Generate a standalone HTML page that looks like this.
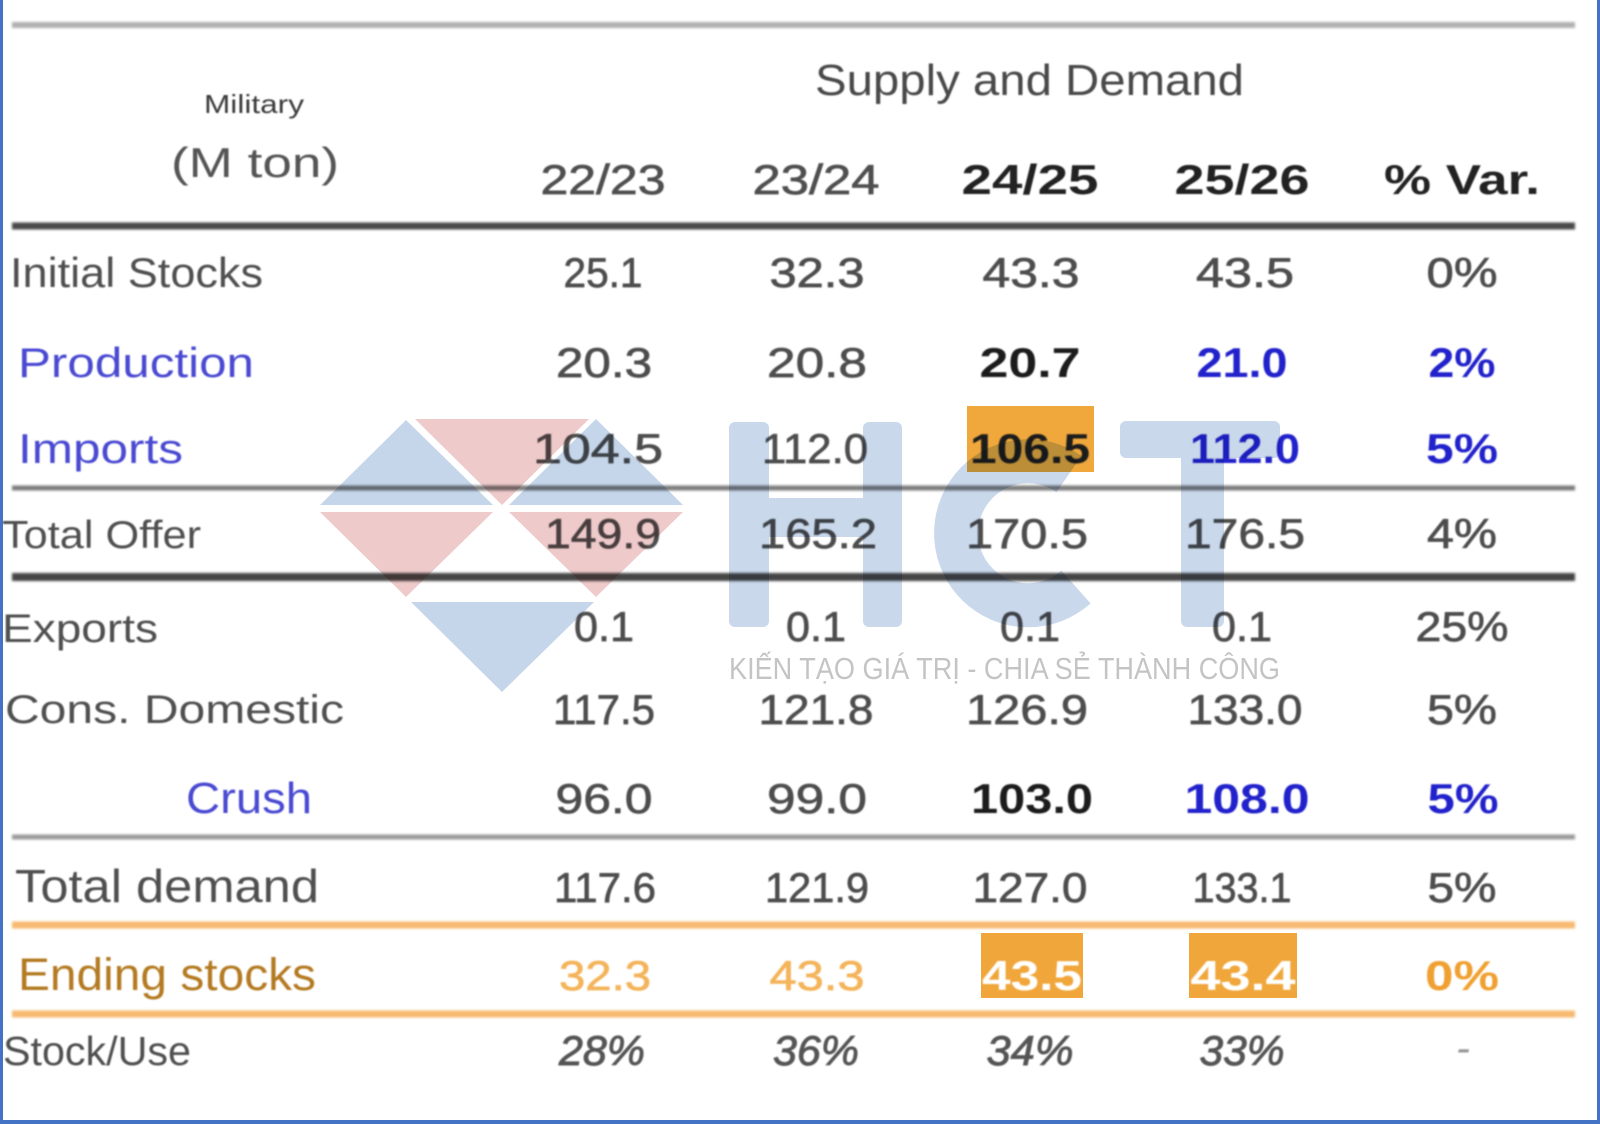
<!DOCTYPE html>
<html>
<head>
<meta charset="utf-8">
<style>
  html,body{margin:0;padding:0;background:#fff;}
  body{width:1600px;height:1124px;overflow:hidden;}
  svg{display:block;}
  .lbl{font-family:"Liberation Sans",sans-serif;}
  .num{font-family:"Liberation Sans",sans-serif;font-size:42px;text-anchor:middle;}
  .reg{stroke:#4e4e4e;stroke-width:0.7px;}
</style>
</head>
<body>
<svg width="1600" height="1124" viewBox="0 0 1600 1124" xmlns="http://www.w3.org/2000/svg">
  <defs>
    <filter id="bl" x="-5%" y="-5%" width="110%" height="110%">
      <feGaussianBlur stdDeviation="0.7"/>
    </filter>
    <filter id="bl2" x="-5%" y="-50%" width="110%" height="200%">
      <feGaussianBlur stdDeviation="1.2"/>
    </filter>
  </defs>
  <rect x="0" y="0" width="1600" height="1124" fill="#ffffff"/>

  <!-- highlight boxes -->
  <rect x="967" y="406" width="127" height="66" fill="#f0a83c"/>
  <rect x="981" y="933" width="102" height="65" fill="#f0a63a"/>
  <rect x="1189" y="933" width="108" height="65" fill="#f0a63a"/>

  <!-- rules -->
  <g filter="url(#bl2)">
    <line x1="12" y1="25" x2="1575" y2="25" stroke="#b0b0b0" stroke-width="6"/>
    <line x1="12" y1="226" x2="1575" y2="226" stroke="#4a4a4a" stroke-width="7"/>
    <line x1="12" y1="488" x2="1575" y2="488" stroke="#7c7c7c" stroke-width="5"/>
    <line x1="12" y1="577" x2="1575" y2="577" stroke="#454545" stroke-width="8"/>
    <line x1="12" y1="837" x2="1575" y2="837" stroke="#9a9a9a" stroke-width="5"/>
    <line x1="12" y1="925" x2="1575" y2="925" stroke="#f6b970" stroke-width="7"/>
    <line x1="12" y1="1014" x2="1575" y2="1014" stroke="#f6b970" stroke-width="7"/>
  </g>

  <g filter="url(#bl)">
    <!-- header -->
    <text class="lbl" x="204" y="113" font-size="26" fill="#3a3a3a" textLength="100" lengthAdjust="spacingAndGlyphs">Military</text>
    <text class="lbl" x="171" y="177" font-size="42" fill="#555" textLength="168" lengthAdjust="spacingAndGlyphs">(M ton)</text>
    <text class="lbl" x="815" y="95" font-size="44" fill="#4a4a4a" textLength="429" lengthAdjust="spacingAndGlyphs">Supply and Demand</text>

    <text class="num reg" x="603" y="194" font-size="46" fill="#505050" textLength="125" lengthAdjust="spacingAndGlyphs">22/23</text>
    <text class="num reg" x="816" y="194" font-size="46" fill="#505050" textLength="127" lengthAdjust="spacingAndGlyphs">23/24</text>
    <text class="num" x="1030" y="194" font-size="46" font-weight="bold" fill="#222" textLength="137" lengthAdjust="spacingAndGlyphs">24/25</text>
    <text class="num" x="1242" y="194" font-size="46" font-weight="bold" fill="#222" textLength="135" lengthAdjust="spacingAndGlyphs">25/26</text>
    <text class="num" x="1462" y="194" font-size="46" font-weight="bold" fill="#222" textLength="156" lengthAdjust="spacingAndGlyphs">% Var.</text>

    <!-- labels -->
    <text class="lbl" x="10" y="287" font-size="42" fill="#505050" textLength="253" lengthAdjust="spacingAndGlyphs">Initial Stocks</text>
    <text class="lbl" x="18" y="377" font-size="42" fill="#4a4ad2" textLength="236" lengthAdjust="spacingAndGlyphs">Production</text>
    <text class="lbl" x="18" y="463" font-size="42" fill="#4a4ad2" textLength="165" lengthAdjust="spacingAndGlyphs">Imports</text>
    <text class="lbl" x="2" y="548" font-size="39" fill="#505050" textLength="199" lengthAdjust="spacingAndGlyphs">Total Offer</text>
    <text class="lbl" x="2" y="642" font-size="40" fill="#505050" textLength="156" lengthAdjust="spacingAndGlyphs">Exports</text>
    <text class="lbl" x="5" y="723" font-size="40" fill="#505050" textLength="339" lengthAdjust="spacingAndGlyphs">Cons. Domestic</text>
    <text class="lbl" x="186" y="813" font-size="44" fill="#4a4ad2" textLength="126" lengthAdjust="spacingAndGlyphs">Crush</text>
    <text class="lbl" x="15" y="902" font-size="46" fill="#505050" textLength="304" lengthAdjust="spacingAndGlyphs">Total demand</text>
    <text class="lbl" x="18" y="990" font-size="45" fill="#b47a20" textLength="298" lengthAdjust="spacingAndGlyphs">Ending stocks</text>
    <text class="lbl" x="3" y="1065" font-size="41" fill="#505050" textLength="188" lengthAdjust="spacingAndGlyphs">Stock/Use</text>

    <!-- Initial Stocks -->
    <g fill="#4e4e4e" class="reg">
      <text class="num" x="603" y="287" textLength="79" lengthAdjust="spacingAndGlyphs">25.1</text>
      <text class="num" x="817" y="287" textLength="95" lengthAdjust="spacingAndGlyphs">32.3</text>
      <text class="num" x="1031" y="287" textLength="97" lengthAdjust="spacingAndGlyphs">43.3</text>
      <text class="num" x="1245" y="287" textLength="98" lengthAdjust="spacingAndGlyphs">43.5</text>
      <text class="num" x="1462" y="287" textLength="71" lengthAdjust="spacingAndGlyphs">0%</text>
    </g>
    <!-- Production -->
    <text class="num reg" x="604" y="377" fill="#4e4e4e" textLength="96" lengthAdjust="spacingAndGlyphs">20.3</text>
    <text class="num reg" x="817" y="377" fill="#4e4e4e" textLength="100" lengthAdjust="spacingAndGlyphs">20.8</text>
    <text class="num" x="1030" y="377" font-weight="bold" fill="#1a1a1a" textLength="101" lengthAdjust="spacingAndGlyphs">20.7</text>
    <text class="num" x="1242" y="377" font-weight="bold" fill="#2424cc" textLength="91" lengthAdjust="spacingAndGlyphs">21.0</text>
    <text class="num" x="1462" y="377" font-weight="bold" fill="#2424cc" textLength="67" lengthAdjust="spacingAndGlyphs">2%</text>
    <!-- Imports -->
    <text class="num reg" x="598" y="463" fill="#4e4e4e" textLength="130" lengthAdjust="spacingAndGlyphs">104.5</text>
    <text class="num reg" x="815" y="463" fill="#4e4e4e" textLength="106" lengthAdjust="spacingAndGlyphs">112.0</text>
    <text class="num" x="1030" y="463" font-weight="bold" fill="#1a1a1a" textLength="120" lengthAdjust="spacingAndGlyphs">106.5</text>
    <text class="num" x="1245" y="463" font-weight="bold" fill="#2424cc" textLength="110" lengthAdjust="spacingAndGlyphs">112.0</text>
    <text class="num" x="1462" y="463" font-weight="bold" fill="#2424cc" textLength="72" lengthAdjust="spacingAndGlyphs">5%</text>
    <!-- Total Offer -->
    <g fill="#4e4e4e" class="reg">
      <text class="num" x="603" y="548" textLength="116" lengthAdjust="spacingAndGlyphs">149.9</text>
      <text class="num" x="818" y="548" textLength="118" lengthAdjust="spacingAndGlyphs">165.2</text>
      <text class="num" x="1027" y="548" textLength="122" lengthAdjust="spacingAndGlyphs">170.5</text>
      <text class="num" x="1245" y="548" textLength="120" lengthAdjust="spacingAndGlyphs">176.5</text>
      <text class="num" x="1462" y="548" textLength="70" lengthAdjust="spacingAndGlyphs">4%</text>
    </g>
    <!-- Exports -->
    <g fill="#4e4e4e" class="reg">
      <text class="num" x="604" y="641" textLength="60" lengthAdjust="spacingAndGlyphs">0.1</text>
      <text class="num" x="816" y="641" textLength="60" lengthAdjust="spacingAndGlyphs">0.1</text>
      <text class="num" x="1030" y="641" textLength="60" lengthAdjust="spacingAndGlyphs">0.1</text>
      <text class="num" x="1242" y="641" textLength="60" lengthAdjust="spacingAndGlyphs">0.1</text>
      <text class="num" x="1462" y="641" textLength="93" lengthAdjust="spacingAndGlyphs">25%</text>
    </g>
    <!-- Cons. Domestic -->
    <g fill="#4e4e4e" class="reg">
      <text class="num" x="604" y="724" textLength="102" lengthAdjust="spacingAndGlyphs">117.5</text>
      <text class="num" x="816" y="724" textLength="115" lengthAdjust="spacingAndGlyphs">121.8</text>
      <text class="num" x="1027" y="724" textLength="122" lengthAdjust="spacingAndGlyphs">126.9</text>
      <text class="num" x="1245" y="724" textLength="115" lengthAdjust="spacingAndGlyphs">133.0</text>
      <text class="num" x="1462" y="724" textLength="70" lengthAdjust="spacingAndGlyphs">5%</text>
    </g>
    <!-- Crush -->
    <text class="num reg" x="604" y="813" fill="#4e4e4e" textLength="97" lengthAdjust="spacingAndGlyphs">96.0</text>
    <text class="num reg" x="817" y="813" fill="#4e4e4e" textLength="100" lengthAdjust="spacingAndGlyphs">99.0</text>
    <text class="num" x="1032" y="813" font-weight="bold" fill="#1a1a1a" textLength="122" lengthAdjust="spacingAndGlyphs">103.0</text>
    <text class="num" x="1247" y="813" font-weight="bold" fill="#2424cc" textLength="125" lengthAdjust="spacingAndGlyphs">108.0</text>
    <text class="num" x="1463" y="813" font-weight="bold" fill="#2424cc" textLength="71" lengthAdjust="spacingAndGlyphs">5%</text>
    <!-- Total demand -->
    <g fill="#4e4e4e" class="reg">
      <text class="num" x="605" y="902" textLength="102" lengthAdjust="spacingAndGlyphs">117.6</text>
      <text class="num" x="817" y="902" textLength="104" lengthAdjust="spacingAndGlyphs">121.9</text>
      <text class="num" x="1030" y="902" textLength="115" lengthAdjust="spacingAndGlyphs">127.0</text>
      <text class="num" x="1242" y="902" textLength="99" lengthAdjust="spacingAndGlyphs">133.1</text>
      <text class="num" x="1462" y="902" textLength="69" lengthAdjust="spacingAndGlyphs">5%</text>
    </g>
    <!-- Ending stocks -->
    <text class="num" x="605" y="990" fill="#f4b45a" stroke="#f4b45a" stroke-width="0.7" textLength="92" lengthAdjust="spacingAndGlyphs">32.3</text>
    <text class="num" x="817" y="990" fill="#f4b45a" stroke="#f4b45a" stroke-width="0.7" textLength="95" lengthAdjust="spacingAndGlyphs">43.3</text>
    <text class="num" x="1032" y="990" font-weight="bold" fill="#ffffff" textLength="100" lengthAdjust="spacingAndGlyphs">43.5</text>
    <text class="num" x="1243" y="990" font-weight="bold" fill="#ffffff" textLength="105" lengthAdjust="spacingAndGlyphs">43.4</text>
    <text class="num" x="1462" y="990" font-weight="bold" fill="#f0a030" textLength="74" lengthAdjust="spacingAndGlyphs">0%</text>
    <!-- Stock/Use -->
    <g fill="#555" font-style="italic" stroke="#555" stroke-width="0.9">
      <text class="num" x="602" y="1065" font-size="38" textLength="86" lengthAdjust="spacingAndGlyphs">28%</text>
      <text class="num" x="816" y="1065" font-size="38" textLength="86" lengthAdjust="spacingAndGlyphs">36%</text>
      <text class="num" x="1030" y="1065" font-size="38" textLength="87" lengthAdjust="spacingAndGlyphs">34%</text>
      <text class="num" x="1242" y="1065" font-size="38" textLength="85" lengthAdjust="spacingAndGlyphs">33%</text>
      <text class="num" x="1463" y="1062" font-size="38" fill="#999" stroke="none">-</text>
    </g>
  </g>

  <!-- watermark -->
  <g style="mix-blend-mode:multiply">
    <!-- diamond of triangles -->
    <polygon points="406,420 320,505 493,505" fill="#c6d6ea"/>
    <polygon points="415,419 589,419 502,505" fill="#eecacb"/>
    <polygon points="596,419 509,505 683,505" fill="#c6d6ea"/>
    <polygon points="320,512 493,512 406,597" fill="#eecacb"/>
    <polygon points="509,512 683,512 596,597" fill="#eecacb"/>
    <polygon points="411,602 594,602 502,692" fill="#c6d6ea"/>
    <!-- H -->
    <rect x="729" y="422" width="40" height="205" rx="6" fill="#c9d8eb"/>
    <rect x="863" y="422" width="39" height="205" rx="6" fill="#c9d8eb"/>
    <rect x="769" y="498" width="94" height="39" fill="#c9d8eb"/>
    <!-- C -->
    <path d="M 1076 587 A 72 72 0 1 1 1069 474" fill="none" stroke="#c9d8eb" stroke-width="44"/>
    <!-- T -->
    <rect x="1120" y="421" width="160" height="37" rx="6" fill="#c9d8eb"/>
    <rect x="1181" y="421" width="43" height="206" rx="6" fill="#c9d8eb"/>
    <!-- slogan -->
    <text x="729" y="679" font-family="Liberation Sans, sans-serif" font-size="31" fill="#c4c4c4" textLength="551" lengthAdjust="spacingAndGlyphs">KIẾN TẠO GIÁ TRỊ - CHIA SẺ THÀNH CÔNG</text>
  </g>

  <!-- blue frame -->
  <rect x="0" y="0" width="3" height="1124" fill="#4472c4"/>
  <rect x="1597" y="0" width="3" height="1124" fill="#4472c4"/>
  <rect x="0" y="1120" width="1600" height="4" fill="#4472c4"/>
</svg>
</body>
</html>
